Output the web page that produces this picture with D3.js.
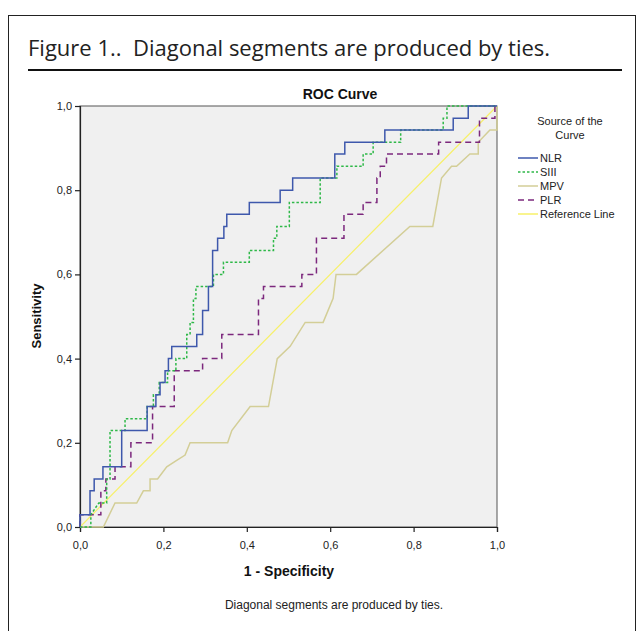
<!DOCTYPE html>
<html>
<head>
<meta charset="utf-8">
<script src="https://cdn.jsdelivr.net/npm/d3@7"></script>
<style>
  body { margin: 0; background: #fff; }
  svg { display: block; }
</style>
</head>
<body>
<div id="chart"></div>
<script>
// ROC points [1 - specificity, sensitivity]
const nlr = [[0,0],[0,0.029],[0.024,0.029],[0.024,0.086],[0.034,0.086],[0.034,0.114],[0.055,0.114],[0.055,0.143],[0.1,0.143],[0.1,0.229],[0.161,0.229],[0.161,0.286],[0.182,0.286],[0.182,0.314],[0.192,0.314],[0.192,0.343],[0.204,0.343],[0.204,0.371],[0.212,0.371],[0.212,0.4],[0.22,0.4],[0.22,0.429],[0.28,0.429],[0.28,0.457],[0.294,0.457],[0.294,0.514],[0.308,0.514],[0.308,0.571],[0.318,0.571],[0.318,0.657],[0.33,0.657],[0.33,0.686],[0.345,0.686],[0.345,0.714],[0.352,0.714],[0.352,0.743],[0.406,0.743],[0.406,0.771],[0.48,0.771],[0.48,0.8],[0.51,0.8],[0.51,0.829],[0.611,0.829],[0.611,0.886],[0.635,0.886],[0.635,0.914],[0.731,0.914],[0.731,0.943],[0.895,0.943],[0.895,0.971],[0.931,0.971],[0.931,1],[1,1]];
const siii = [[0,0],[0.026,0],[0.026,0.029],[0.045,0.057],[0.064,0.057],[0.064,0.114],[0.072,0.114],[0.072,0.229],[0.108,0.229],[0.108,0.257],[0.161,0.257],[0.161,0.286],[0.176,0.286],[0.176,0.314],[0.19,0.314],[0.19,0.343],[0.21,0.343],[0.21,0.371],[0.23,0.371],[0.23,0.4],[0.256,0.4],[0.256,0.457],[0.264,0.457],[0.264,0.486],[0.272,0.486],[0.272,0.543],[0.278,0.543],[0.278,0.571],[0.32,0.571],[0.32,0.6],[0.344,0.6],[0.344,0.629],[0.406,0.629],[0.406,0.657],[0.464,0.657],[0.464,0.686],[0.472,0.686],[0.472,0.714],[0.502,0.714],[0.502,0.771],[0.576,0.771],[0.576,0.829],[0.616,0.829],[0.616,0.857],[0.679,0.857],[0.679,0.886],[0.703,0.886],[0.703,0.914],[0.769,0.914],[0.769,0.943],[0.871,0.943],[0.871,0.971],[0.88,0.971],[0.88,1],[1,1]];
const mpv = [[0,0],[0.056,0],[0.084,0.057],[0.136,0.057],[0.152,0.086],[0.168,0.086],[0.168,0.114],[0.186,0.114],[0.208,0.143],[0.23,0.157],[0.252,0.171],[0.264,0.2],[0.354,0.2],[0.364,0.229],[0.408,0.286],[0.452,0.286],[0.473,0.4],[0.504,0.429],[0.54,0.486],[0.583,0.486],[0.607,0.543],[0.614,0.6],[0.663,0.6],[0.791,0.714],[0.846,0.714],[0.867,0.829],[0.891,0.857],[0.903,0.857],[0.935,0.886],[0.955,0.886],[0.955,0.914],[0.983,0.943],[1,0.943],[1,1]];
const plr = [[0,0],[0,0.029],[0.05,0.029],[0.05,0.086],[0.062,0.086],[0.062,0.114],[0.084,0.114],[0.084,0.143],[0.122,0.143],[0.122,0.2],[0.174,0.2],[0.174,0.286],[0.226,0.286],[0.226,0.371],[0.294,0.371],[0.294,0.4],[0.34,0.4],[0.34,0.457],[0.428,0.457],[0.428,0.543],[0.44,0.543],[0.44,0.571],[0.532,0.571],[0.532,0.6],[0.567,0.6],[0.567,0.686],[0.633,0.686],[0.633,0.743],[0.679,0.743],[0.679,0.771],[0.712,0.771],[0.712,0.829],[0.72,0.829],[0.72,0.857],[0.735,0.857],[0.735,0.886],[0.86,0.886],[0.86,0.914],[0.958,0.914],[0.958,0.971],[0.995,0.971],[0.995,1],[1,1]];
const refLine = [[0,0],[1,1]];

const seriesNames = ["NLR", "SIII", "MPV", "PLR", "Reference Line"];
const seriesColors = ["#3e58ac", "#2eb848", "#d3ce97", "#7c287d", "#f7f068"];
const seriesDash = [null, "2.5,2", null, "6,4", null];
const seriesData = [nlr, siii, mpv, plr, refLine];
const tickValues = [0, 0.2, 0.4, 0.6, 0.8, 1.0];

const W = 641, H = 631;
const plot = { left: 80, right: 497, top: 106, bottom: 527 };

const svg = d3.select("#chart").append("svg")
  .attr("width", W).attr("height", H);

// outer frame and figure caption
svg.append("rect")
  .attr("x", 8.5).attr("y", 15.5).attr("width", 627).attr("height", 640)
  .attr("fill", "none").attr("stroke", "#222").attr("stroke-width", 1);

svg.append("text")
  .attr("x", 28).attr("y", 56)
  .style("font-family", "'Open Sans', sans-serif")
  .style("font-size", "22px")
  .style("white-space", "pre")
  .attr("fill", "#222")
  .text("Figure 1..  Diagonal segments are produced by ties.");

svg.append("line")
  .attr("x1", 28).attr("x2", 622).attr("y1", 70).attr("y2", 70)
  .attr("stroke", "#111").attr("stroke-width", 2);

const x = d3.scaleLinear().domain([0, 1]).range([plot.left, plot.right]);
const y = d3.scaleLinear().domain([0, 1]).range([plot.bottom, plot.top]);

// plot background
svg.append("rect")
  .attr("x", plot.left).attr("y", plot.top)
  .attr("width", plot.right - plot.left).attr("height", plot.bottom - plot.top)
  .attr("fill", "#f0f0f0").attr("stroke", "#555").attr("stroke-width", 1);

const fmt = d => d3.format(".1f")(d).replace(".", ",");

const xAxis = svg.append("g")
  .attr("transform", `translate(0,${plot.bottom})`)
  .call(d3.axisBottom(x).tickValues(tickValues).tickFormat(fmt).tickSizeOuter(0).tickSize(5));
const yAxis = svg.append("g")
  .attr("transform", `translate(${plot.left},0)`)
  .call(d3.axisLeft(y).tickValues(tickValues).tickFormat(fmt).tickSizeOuter(0).tickSize(5));

[xAxis, yAxis].forEach(g => {
  g.selectAll("text")
    .style("font-family", "'Liberation Sans', Arial, sans-serif")
    .style("font-size", "11px")
    .attr("fill", "#222");
  g.selectAll("line, path").attr("stroke", "#222").attr("stroke-width", 1.2);
});
xAxis.selectAll("text").attr("dy", "1.25em");

// curves
const line = d3.line().x(d => x(d[0])).y(d => y(d[1]));
const drawOrder = [4, 2, 3, 1, 0];
drawOrder.forEach(i => {
  svg.append("path")
    .datum(seriesData[i])
    .attr("d", line)
    .attr("fill", "none")
    .attr("stroke", seriesColors[i])
    .attr("stroke-width", i === 4 ? 1.2 : 1.5)
    .attr("stroke-dasharray", seriesDash[i]);
});

// titles
svg.append("text")
  .attr("x", 340).attr("y", 99)
  .attr("text-anchor", "middle")
  .style("font-family", "'Liberation Sans', Arial, sans-serif")
  .style("font-size", "14px").style("font-weight", "bold")
  .attr("fill", "#111")
  .text("ROC Curve");

svg.append("text")
  .attr("transform", `translate(41,316) rotate(-90)`)
  .attr("text-anchor", "middle")
  .style("font-family", "'Liberation Sans', Arial, sans-serif")
  .style("font-size", "13px").style("font-weight", "bold")
  .attr("fill", "#111")
  .text("Sensitivity");

svg.append("text")
  .attr("x", 289).attr("y", 576)
  .attr("text-anchor", "middle")
  .style("font-family", "'Liberation Sans', Arial, sans-serif")
  .style("font-size", "14px").style("font-weight", "bold")
  .attr("fill", "#111")
  .text("1 - Specificity");

svg.append("text")
  .attr("x", 334).attr("y", 609)
  .attr("text-anchor", "middle")
  .style("font-family", "'Liberation Sans', Arial, sans-serif")
  .style("font-size", "12px")
  .attr("fill", "#222")
  .text("Diagonal segments are produced by ties.");

// legend
const legend = svg.append("g")
  .style("font-family", "'Liberation Sans', Arial, sans-serif")
  .style("font-size", "11px")
  .attr("fill", "#222");
legend.append("text").attr("x", 570).attr("y", 125).attr("text-anchor", "middle").text("Source of the");
legend.append("text").attr("x", 570).attr("y", 139).attr("text-anchor", "middle").text("Curve");

const items = legend.selectAll("g.item")
  .data(seriesNames)
  .join("g")
  .attr("class", "item")
  .attr("transform", (d, i) => `translate(518,${158 + i * 14})`);
items.append("line")
  .attr("x1", 0).attr("x2", 20)
  .attr("stroke", (d, i) => seriesColors[i])
  .attr("stroke-width", 1.5)
  .attr("stroke-dasharray", (d, i) => seriesDash[i]);
items.append("text")
  .attr("x", 22).attr("dy", "0.35em")
  .text(d => d);
</script>
</body>
</html>
